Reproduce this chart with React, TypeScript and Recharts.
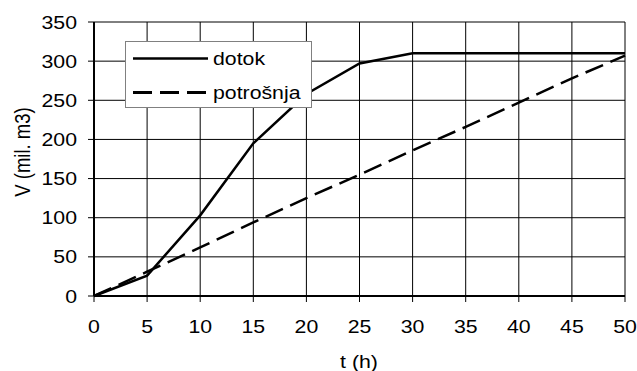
import React from 'react';
import { LineChart, Line, XAxis, YAxis, CartesianGrid, Legend, Label } from 'recharts';

const hours = [0, 5, 10, 15, 20, 25, 30, 35, 40, 45, 50];
const dotok = [0, 26, 103, 195, 258, 297, 310, 310, 310, 310, 310];
const potrosnja = [0, 31, 62, 94, 125, 155, 186, 216, 247, 278, 307];
const xTicks = [0, 5, 10, 15, 20, 25, 30, 35, 40, 45, 50];
const yTicks = [0, 50, 100, 150, 200, 250, 300, 350];

const data = hours.map((t, i) => ({ t, dotok: dotok[i], potrosnja: potrosnja[i] }));

const font = 'Liberation Sans, Arial, sans-serif';
const fs = 18.5;
const sx = 1.15; // text in the original is a little wider than tall

function XTick(props: any) {
  const { x, y, payload } = props;
  return (
    <text transform={`translate(${x},${y + 31}) scale(${sx},1)`} textAnchor="middle" fontFamily={font} fontSize={fs} fill="#000">
      {payload.value}
    </text>
  );
}

function YTick(props: any) {
  const { x, y, payload } = props;
  return (
    <text transform={`translate(${x},${y + 6.5}) scale(${sx},1)`} textAnchor="end" fontFamily={font} fontSize={fs} fill="#000">
      {payload.value}
    </text>
  );
}

function LegendBox() {
  return (
    <div style={{ width: 187, height: 67, boxSizing: 'border-box', border: '1px solid #808080', background: '#fff', position: 'relative' }}>
      <svg width={187} height={67} style={{ position: 'absolute', left: -1, top: -1 }}>
        <line x1={8} y1={17.5} x2={83} y2={17.5} stroke="#000" strokeWidth={2.5} />
        <line x1={8} y1={51.5} x2={83} y2={51.5} stroke="#000" strokeWidth={3} strokeDasharray="19 8" />
        <text transform={`translate(88,23.5) scale(${sx},1)`} fontFamily={font} fontSize={fs} fill="#000">dotok</text>
        <text transform={`translate(88,58) scale(${sx},1)`} fontFamily={font} fontSize={fs} fill="#000">potrošnja</text>
      </svg>
    </div>
  );
}

export default function App() {
  return (
    <div style={{ position: 'absolute', left: 0, top: 0, background: '#fff' }}>
      <LineChart width={637} height={371} data={data} margin={{ top: 22, right: 12, left: 0, bottom: 0 }}>
        <CartesianGrid stroke="#000" strokeWidth={1} />
        <XAxis
          dataKey="t"
          type="number"
          domain={[0, 50]}
          ticks={xTicks}
          height={75}
          interval={0}
          axisLine={{ stroke: '#000', strokeWidth: 2 }}
          tickLine={{ stroke: '#000' }}
          tickSize={6}
          tickMargin={0}
          tick={<XTick />}
        >
          <Label
            content={() => (
              <text transform={`translate(359,368) scale(${sx},1)`} textAnchor="middle" fill="#000" fontSize={fs} fontFamily={font}>
                t (h)
              </text>
            )}
          />
        </XAxis>
        <YAxis
          type="number"
          domain={[0, 350]}
          ticks={yTicks}
          width={94}
          interval={0}
          axisLine={{ stroke: '#000', strokeWidth: 2 }}
          tickLine={{ stroke: '#000' }}
          tickSize={6}
          tickMargin={11}
          tick={<YTick />}
        >
          <Label
            content={() => (
              <text transform={`translate(30,152) scale(${sx},1) rotate(-90)`} textAnchor="middle" fill="#000" fontSize={fs} fontFamily={font}>
                V (mil. m3)
              </text>
            )}
          />
        </YAxis>
        <Legend
          layout="vertical"
          align="center"
          verticalAlign="middle"
          wrapperStyle={{ left: 125, top: 41, width: 187, height: 67 }}
          content={() => <LegendBox />}
        />
        <Line type="linear" dataKey="dotok" stroke="#000" strokeWidth={2.5} dot={false} isAnimationActive={false} />
        <Line type="linear" dataKey="potrosnja" stroke="#000" strokeWidth={2.5} strokeDasharray="19 8" dot={false} isAnimationActive={false} />
      </LineChart>
    </div>
  );
}
